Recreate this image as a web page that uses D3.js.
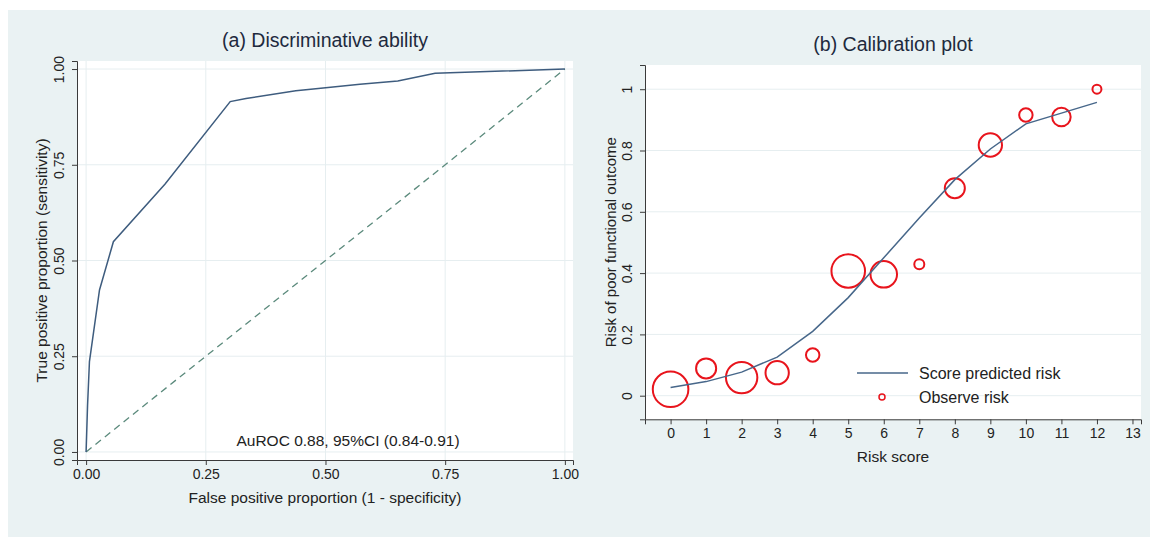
<!DOCTYPE html>
<html>
<head>
<meta charset="utf-8">
<script src="https://cdn.jsdelivr.net/npm/d3@7"></script>
<style>
  body { margin: 0; background: #fff; }
  svg { display: block; font-family: "Liberation Sans", Arial, sans-serif; }
  .axis path, .axis line { stroke: #3a3a3a; }
  .axis text { fill: #222; font-size: 14px; }
</style>
</head>
<body>
<div id="chart"></div>
<script>
// ROC curve (panel a)
var rocFpr = [0, 0.003, 0.007, 0.028, 0.057, 0.165, 0.301, 0.334, 0.438, 0.485, 0.572, 0.651, 0.729, 1];
var rocTpr = [0, 0.12, 0.236, 0.423, 0.549, 0.70, 0.915, 0.923, 0.943, 0.949, 0.96, 0.969, 0.989, 1];
var rocTicks = [0, 0.25, 0.5, 0.75, 1];

// calibration (panel b)
var scores = [0, 1, 2, 3, 4, 5, 6, 7, 8, 9, 10, 11, 12];
var predRisk = [0.027, 0.046, 0.077, 0.126, 0.21, 0.32, 0.45, 0.58, 0.705, 0.805, 0.887, 0.922, 0.957];
var obsRisk = [0.021, 0.089, 0.059, 0.075, 0.133, 0.407, 0.396, 0.429, 0.677, 0.818, 0.916, 0.909, 1.0];
var obsN = [63, 20, 49, 27, 9, 56, 35, 5, 20, 27, 9, 17, 4];
var calXTicks = [0, 1, 2, 3, 4, 5, 6, 7, 8, 9, 10, 11, 12, 13];
var calYTicks = [0, 0.2, 0.4, 0.6, 0.8, 1];

var width = 1156, height = 540;
var gridColor = "#e6eef0";

var svg = d3.select("#chart").append("svg")
  .attr("width", width)
  .attr("height", height);

// outer graph region
svg.append("rect")
  .attr("x", 8).attr("y", 10)
  .attr("width", 1142).attr("height", 527)
  .attr("fill", "#eaf2f3");

// ---------- panel (a) ----------
var xa = d3.scaleLinear().domain([-0.019, 1.017]).range([77, 573]);
var ya = d3.scaleLinear().domain([-0.021, 1.021]).range([460, 61]);

svg.append("rect")
  .attr("x", 77).attr("y", 61)
  .attr("width", 573 - 77).attr("height", 460 - 61)
  .attr("fill", "#fff");

svg.append("g").selectAll("line.v")
  .data(rocTicks)
  .enter().append("line")
  .attr("x1", function(d) { return xa(d); })
  .attr("x2", function(d) { return xa(d); })
  .attr("y1", 61).attr("y2", 460)
  .attr("stroke", gridColor);
svg.append("g").selectAll("line.h")
  .data(rocTicks)
  .enter().append("line")
  .attr("x1", 77).attr("x2", 573)
  .attr("y1", function(d) { return ya(d); })
  .attr("y2", function(d) { return ya(d); })
  .attr("stroke", gridColor);

// reference diagonal
svg.append("line")
  .attr("x1", xa(0)).attr("y1", ya(0))
  .attr("x2", xa(1)).attr("y2", ya(1))
  .attr("stroke", "#5b8a7c")
  .attr("stroke-width", 1.3)
  .attr("stroke-dasharray", "7,5");

var rocData = rocFpr.map(function(d, i) { return [d, rocTpr[i]]; });
svg.append("path")
  .datum(rocData)
  .attr("fill", "none")
  .attr("stroke", "#3e5c7e")
  .attr("stroke-width", 1.5)
  .attr("d", d3.line()
    .x(function(d) { return xa(d[0]); })
    .y(function(d) { return ya(d[1]); }));

svg.append("g")
  .attr("class", "axis")
  .attr("transform", "translate(0,460)")
  .call(d3.axisBottom(xa).tickValues(rocTicks).tickFormat(d3.format(".2f")).tickSizeOuter(0).tickSize(5))
  .selectAll("text").attr("dy", "0.8em");

svg.append("g")
  .attr("class", "axis")
  .attr("transform", "translate(77,0)")
  .call(d3.axisLeft(ya).tickValues(rocTicks).tickFormat(d3.format(".2f")).tickSizeOuter(0).tickSize(5))
  .selectAll("text")
    .attr("x", 0).attr("dy", 0)
    .style("text-anchor", "middle")
    .attr("transform", "translate(-13.5,0) rotate(-90)");

svg.append("text")
  .attr("x", 325).attr("y", 47)
  .attr("text-anchor", "middle")
  .attr("fill", "#1e2a3e")
  .style("font-size", "19.5px")
  .text("(a) Discriminative ability");

svg.append("text")
  .attr("x", 325).attr("y", 503)
  .attr("text-anchor", "middle")
  .attr("fill", "#222")
  .style("font-size", "15.5px")
  .text("False positive proportion (1 - specificity)");

svg.append("text")
  .attr("transform", "translate(47," + ((61 + 460) / 2) + ") rotate(-90)")
  .attr("text-anchor", "middle")
  .attr("fill", "#222")
  .style("font-size", "15.5px")
  .text("True positive proportion (sensitivity)");

svg.append("text")
  .attr("x", 348).attr("y", 446)
  .attr("text-anchor", "middle")
  .attr("fill", "#222")
  .style("font-size", "15.5px")
  .text("AuROC 0.88, 95%CI (0.84-0.91)");

// ---------- panel (b) ----------
var xb = d3.scaleLinear().domain([-0.72, 13.24]).range([645, 1141]);
var yb = d3.scaleLinear().domain([-0.077, 1.079]).range([419.3, 65]);
var rb = d3.scaleSqrt().domain([0, d3.max(obsN)]).range([0, 17.8]);

svg.append("rect")
  .attr("x", 645).attr("y", 65)
  .attr("width", 1141 - 645).attr("height", 419.3 - 65)
  .attr("fill", "#fff");

svg.append("g").selectAll("line")
  .data(calYTicks)
  .enter().append("line")
  .attr("x1", 645).attr("x2", 1141)
  .attr("y1", function(d) { return yb(d); })
  .attr("y2", function(d) { return yb(d); })
  .attr("stroke", gridColor);

svg.append("g").selectAll("circle")
  .data(scores)
  .enter().append("circle")
  .attr("cx", function(d) { return xb(d); })
  .attr("cy", function(d, i) { return yb(obsRisk[i]); })
  .attr("r", function(d, i) { return rb(obsN[i]); })
  .attr("fill", "none")
  .attr("stroke", "#e8141c")
  .attr("stroke-width", 2);

var predData = scores.map(function(d, i) { return [d, predRisk[i]]; });
svg.append("path")
  .datum(predData)
  .attr("fill", "none")
  .attr("stroke", "#47678a")
  .attr("stroke-width", 1.5)
  .attr("d", d3.line()
    .x(function(d) { return xb(d[0]); })
    .y(function(d) { return yb(d[1]); }));

svg.append("g")
  .attr("class", "axis")
  .attr("transform", "translate(0,419.3)")
  .call(d3.axisBottom(xb).tickValues(calXTicks).tickFormat(d3.format("d")).tickSizeOuter(0).tickSize(5))
  .selectAll("text").attr("dy", "0.8em");

svg.append("g")
  .attr("class", "axis")
  .attr("transform", "translate(645,0)")
  .call(d3.axisLeft(yb).tickValues(calYTicks).tickFormat(d3.format("")).tickSizeOuter(0).tickSize(5))
  .selectAll("text")
    .attr("x", 0).attr("dy", 0)
    .style("text-anchor", "middle")
    .attr("transform", "translate(-13,0) rotate(-90)");

svg.append("text")
  .attr("x", 893).attr("y", 51)
  .attr("text-anchor", "middle")
  .attr("fill", "#1e2a3e")
  .style("font-size", "19.5px")
  .text("(b) Calibration plot");

svg.append("text")
  .attr("x", 893).attr("y", 462)
  .attr("text-anchor", "middle")
  .attr("fill", "#222")
  .style("font-size", "15.5px")
  .text("Risk score");

svg.append("text")
  .attr("transform", "translate(616," + ((65 + 419.3) / 2) + ") rotate(-90)")
  .attr("text-anchor", "middle")
  .attr("fill", "#222")
  .style("font-size", "15px")
  .text("Risk of poor functional outcome");

// legend
var legend = svg.append("g");
legend.append("line")
  .attr("x1", 857).attr("x2", 908)
  .attr("y1", 373).attr("y2", 373)
  .attr("stroke", "#47678a").attr("stroke-width", 1.5);
legend.append("text")
  .attr("x", 919).attr("y", 379)
  .attr("fill", "#222").style("font-size", "16px")
  .text("Score predicted risk");
legend.append("circle")
  .attr("cx", 882).attr("cy", 397).attr("r", 3)
  .attr("fill", "none").attr("stroke", "#e8141c").attr("stroke-width", 1.5);
legend.append("text")
  .attr("x", 919).attr("y", 403)
  .attr("fill", "#222").style("font-size", "16px")
  .text("Observe risk");
</script>
</body>
</html>
